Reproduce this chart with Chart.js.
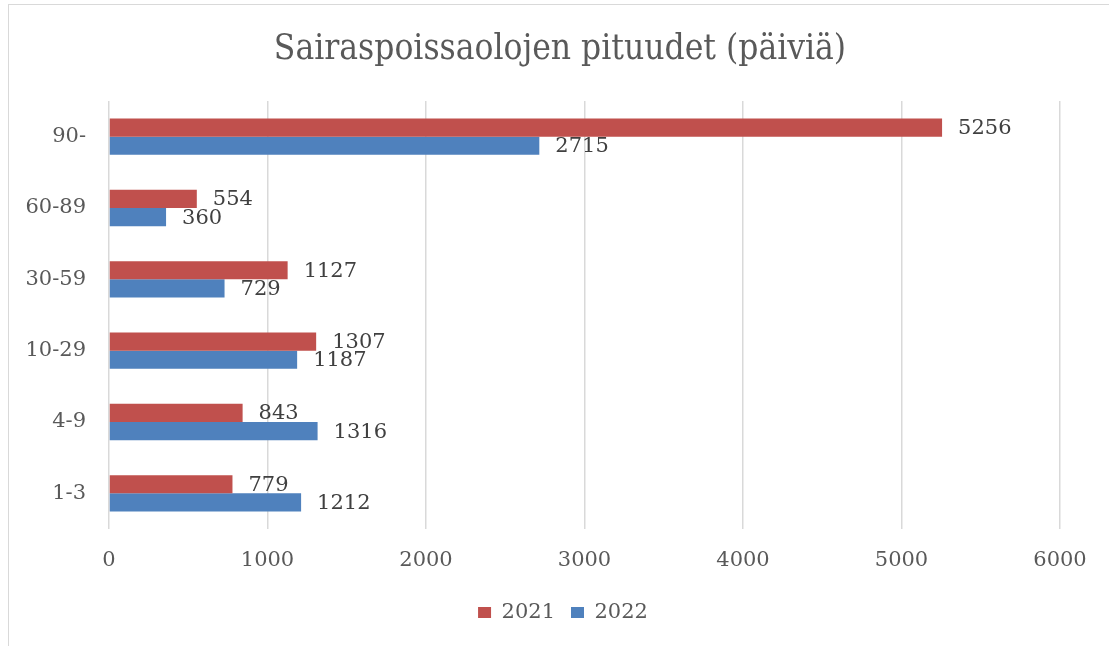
<!DOCTYPE html>
<html>
<head>
<meta charset="utf-8">
<script src="https://cdn.jsdelivr.net/npm/chart.js@4/dist/chart.umd.min.js"></script>
<style>
  html, body { margin: 0; padding: 0; background: #fff; }
  #wrap { position: relative; width: 1109px; height: 646px; }
  #frame { position: absolute; left: 8px; top: 4px; right: 0; bottom: 0;
           border-left: 1.5px solid #d9d9d9; border-top: 1.5px solid #d9d9d9; }
  #chart { position: absolute; left: 0; top: 0; }
</style>
</head>
<body>
<div id="wrap">
  <div id="frame"></div>
  <canvas id="chart" width="1109" height="646"></canvas>
</div>
<script>
// kategoriat ylhäältä alas
const kategoriat = ["90-", "60-89", "30-59", "10-29", "4-9", "1-3"];
const arvot2021 = [5256, 554, 1127, 1307, 843, 779];
const arvot2022 = [2715, 360, 729, 1187, 1316, 1212];
const xTicks = [0, 1000, 2000, 3000, 4000, 5000, 6000];

const fontti = "'DejaVu Serif', 'Liberation Serif', serif";
const otsikkoFontti = "'DejaVu Serif Condensed', 'DejaVu Serif', serif";

// arvot palkkien perään
const arvoTekstit = {
  id: "arvoTekstit",
  afterDatasetsDraw(chart) {
    const ctx = chart.ctx;
    ctx.save();
    ctx.font = "21px " + fontti;
    ctx.fillStyle = "#404040";
    ctx.textAlign = "left";
    ctx.textBaseline = "middle";
    chart.data.datasets.forEach((ds, i) => {
      const meta = chart.getDatasetMeta(i);
      meta.data.forEach((bar, j) => {
        ctx.fillText(String(ds.data[j]), bar.x + 16, bar.y + 1);
      });
    });
    ctx.restore();
  }
};

// otsikko ja selite hieman oikealle, kuten alkuperäisessä
const siirto = {
  id: "siirto",
  afterLayout(chart) {
    if (chart.titleBlock) { chart.titleBlock.left += 30; chart.titleBlock.right += 30; }
    if (chart.legend) { chart.legend.left += 33; chart.legend.right += 33; }
  }
};

new Chart(document.getElementById("chart").getContext("2d"), {
  type: "bar",
  data: {
    labels: kategoriat,
    datasets: [
      { label: "2021", data: arvot2021, backgroundColor: "#C0504D", borderColor: "#C0504D" },
      { label: "2022", data: arvot2022, backgroundColor: "#4F81BD", borderColor: "#4F81BD" }
    ]
  },
  options: {
    indexAxis: "y",
    responsive: false,
    animation: false,
    categoryPercentage: 0.51,
    barPercentage: 1,
    layout: { padding: { left: 0, right: 49, top: 0, bottom: 13 } },
    plugins: {
      title: {
        display: true,
        text: "Sairaspoissaolojen pituudet (päiviä)",
        color: "#595959",
        font: { family: otsikkoFontti, size: 35, weight: "normal", lineHeight: 1.2 },
        padding: { top: 29, bottom: 30 }
      },
      legend: {
        position: "bottom",
        labels: {
          color: "#595959",
          font: { family: fontti, size: 21 },
          boxWidth: 13,
          boxHeight: 11,
          padding: 16
        }
      },
      tooltip: { enabled: false }
    },
    scales: {
      x: {
        min: 0,
        max: 6000,
        afterBuildTicks(scale) { scale.ticks = xTicks.map(v => ({ value: v })); },
        afterFit(scale) { scale.height = 57; },
        grid: { color: "#d9d9d9", lineWidth: 1.5, drawTicks: false },
        border: { display: false },
        ticks: {
          color: "#595959",
          font: { family: fontti, size: 21 },
          padding: 19,
          callback: v => String(v)
        }
      },
      y: {
        afterFit(scale) { scale.width = 109; },
        grid: { display: false, drawTicks: false },
        border: { display: false },
        ticks: { color: "#595959", font: { family: fontti, size: 21 }, padding: 23 }
      }
    }
  },
  plugins: [arvoTekstit, siirto]
});
</script>
</body>
</html>
